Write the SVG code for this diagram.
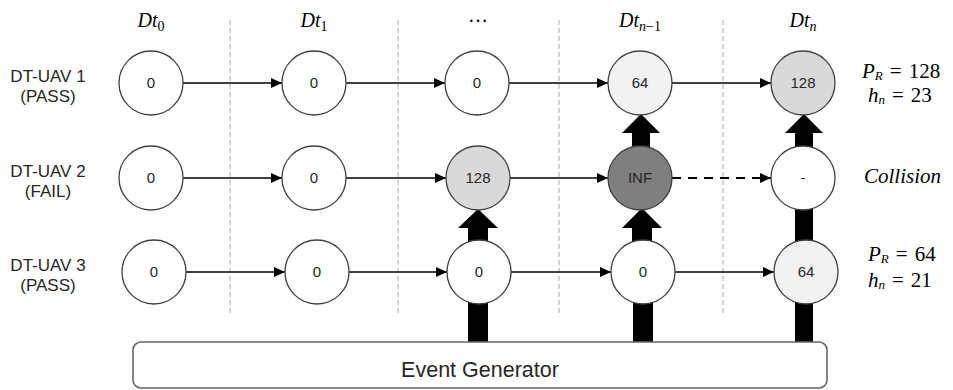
<svg xmlns="http://www.w3.org/2000/svg" width="953" height="390" viewBox="0 0 953 390">
  <defs>
    <marker id="arrow" markerUnits="userSpaceOnUse" markerWidth="12" markerHeight="10" refX="11" refY="5" orient="auto">
      <path d="M0,0 L11,5 L0,10 Z" fill="#000"/>
    </marker>
    <style>
      .sep { stroke: #ababab; stroke-width: 1; stroke-dasharray: 5 3; fill: none; }
      .node circle { stroke: #404040; stroke-width: 1.3; }
      .node text { font-family: "Liberation Sans", Arial, sans-serif; font-size: 15px; fill: #262626; text-anchor: middle; }
      .w { fill: #ffffff; }
      .l { fill: #f2f2f2; }
      .m { fill: #d9d9d9; }
      .d { fill: #7f7f7f; }
      .link { stroke: #000; stroke-width: 1.6; fill: none; marker-end: url(#arrow); }
      .link.dash { stroke-width: 2.2; stroke-dasharray: 9 7; }
      .block { fill: #000; }
      .label { font-family: "Liberation Sans", Arial, sans-serif; font-size: 17px; fill: #262626; text-anchor: middle; }
      .math { font-family: "Liberation Serif", "Times New Roman", serif; font-size: 21px; fill: #000; }
      .it { font-style: italic; }
      .sub { font-size: 13px; font-style: italic; }
      .head { font-family: "Liberation Serif", "Times New Roman", serif; font-size: 20px; fill: #000; text-anchor: middle; }
      .gen rect { fill: #fff; stroke: #666; stroke-width: 1.6; }
      .gen text { font-family: "Liberation Sans", Arial, sans-serif; font-size: 21.5px; fill: #262626; text-anchor: middle; }
    </style>
  </defs>

  <!-- time step separators -->
  <g id="separators">
    <line class="sep" x1="230" y1="20" x2="230" y2="313"/>
    <line class="sep" x1="398" y1="20" x2="398" y2="313"/>
    <line class="sep" x1="559" y1="20" x2="559" y2="313"/>
    <line class="sep" x1="723" y1="20" x2="723" y2="313"/>
  </g>

  <!-- column headers -->
  <g id="headers">
    <text class="head" x="151" y="27"><tspan class="it">Dt</tspan><tspan font-size="14" dy="4">0</tspan></text>
    <text class="head" x="314" y="27"><tspan class="it">Dt</tspan><tspan font-size="14" dy="4">1</tspan></text>
    <text class="head" x="478" y="22" font-size="14" font-family="Liberation Sans, sans-serif">…</text>
    <text class="head" x="640" y="27"><tspan class="it">Dt</tspan><tspan class="it" font-size="14" dy="4">n</tspan><tspan font-size="14">−1</tspan></text>
    <text class="head" x="803" y="27"><tspan class="it">Dt</tspan><tspan class="it" font-size="14" dy="4">n</tspan></text>
  </g>

  <!-- row labels -->
  <g id="row-labels">
    <text class="label" x="48" y="82">DT-UAV 1</text>
    <text class="label" x="48" y="102">(PASS)</text>
    <text class="label" x="48" y="177">DT-UAV 2</text>
    <text class="label" x="48" y="197">(FAIL)</text>
    <text class="label" x="48" y="271">DT-UAV 3</text>
    <text class="label" x="48" y="291">(PASS)</text>
  </g>

  <!-- connectors -->
  <g id="connectors">
    <!-- UAV 1 -->
    <line class="link" x1="183" y1="83" x2="282" y2="83"/>
    <line class="link" x1="346" y1="83" x2="445" y2="83"/>
    <line class="link" x1="509" y1="83" x2="608" y2="83"/>
    <line class="link" x1="672" y1="83" x2="771" y2="83"/>
    <!-- UAV 2 -->
    <line class="link" x1="183" y1="178" x2="282" y2="178"/>
    <line class="link" x1="346" y1="178" x2="446" y2="178"/>
    <line class="link" x1="510" y1="178" x2="608" y2="178"/>
    <line class="link dash" x1="672" y1="178" x2="771" y2="178"/>
    <!-- UAV 3 -->
    <line class="link" x1="186" y1="272" x2="285" y2="272"/>
    <line class="link" x1="349" y1="272" x2="447" y2="272"/>
    <line class="link" x1="511" y1="272" x2="611" y2="272"/>
    <line class="link" x1="675" y1="272" x2="774" y2="272"/>
    <!-- event injections -->
    <rect class="block" x="468" y="300" width="20" height="43"/>
    <rect class="block" x="633" y="300" width="20" height="43"/>
    <rect class="block" x="795" y="300" width="18" height="43"/>
    <polygon class="block" points="468,245 468,228 458,228 478,209 498,228 488,228 488,245"/>
    <polygon class="block" points="632,245 632,228 622,228 642,208 662,228 652,228 652,245"/>
    <polygon class="block" points="632,150 632,133 622,133 641,114 660,133 650,133 650,150"/>
    <rect class="block" x="795" y="205" width="18" height="40"/>
    <polygon class="block" points="795,150 795,133 785,133 804,114 823,133 813,133 813,150"/>
  </g>

  <!-- DT-UAV 1 nodes -->
  <g id="u1-t0" class="node"><circle class="w" cx="151" cy="83" r="32"/><text x="151" y="88">0</text></g>
  <g id="u1-t1" class="node"><circle class="w" cx="314" cy="83" r="32"/><text x="314" y="88">0</text></g>
  <g id="u1-t2" class="node"><circle class="w" cx="477" cy="83" r="32"/><text x="477" y="88">0</text></g>
  <g id="u1-t3" class="node"><circle class="l" cx="640" cy="83" r="32"/><text x="640" y="88">64</text></g>
  <g id="u1-t4" class="node"><circle class="m" cx="803" cy="83" r="32"/><text x="803" y="88">128</text></g>

  <!-- DT-UAV 2 nodes -->
  <g id="u2-t0" class="node"><circle class="w" cx="151" cy="178" r="32"/><text x="151" y="183">0</text></g>
  <g id="u2-t1" class="node"><circle class="w" cx="314" cy="178" r="32"/><text x="314" y="183">0</text></g>
  <g id="u2-t2" class="node"><circle class="m" cx="478" cy="178" r="32"/><text x="478" y="183">128</text></g>
  <g id="u2-t3" class="node"><circle class="d" cx="640" cy="178" r="32"/><text x="640" y="183">INF</text></g>
  <g id="u2-t4" class="node"><circle class="w" cx="803" cy="178" r="32"/><text x="803" y="183">-</text></g>

  <!-- DT-UAV 3 nodes -->
  <g id="u3-t0" class="node"><circle class="w" cx="154" cy="272" r="32"/><text x="154" y="277">0</text></g>
  <g id="u3-t1" class="node"><circle class="w" cx="317" cy="272" r="32"/><text x="317" y="277">0</text></g>
  <g id="u3-t2" class="node"><circle class="w" cx="479" cy="272" r="32"/><text x="479" y="277">0</text></g>
  <g id="u3-t3" class="node"><circle class="w" cx="643" cy="272" r="32"/><text x="643" y="277">0</text></g>
  <g id="u3-t4" class="node"><circle class="l" cx="806" cy="272" r="32"/><text x="806" y="277">64</text></g>

  <!-- outcome annotations -->
  <g id="results">
    <text class="math" x="862" y="78"><tspan class="it">P</tspan><tspan class="sub" dy="2">R</tspan><tspan dx="7" dy="-2">=</tspan><tspan dx="7">128</tspan></text>
    <text class="math" x="868" y="102"><tspan class="it">h</tspan><tspan class="sub" dy="2">n</tspan><tspan dx="7" dy="-2">=</tspan><tspan dx="7">23</tspan></text>
    <text class="math it" x="864" y="183">Collision</text>
    <text class="math" x="868" y="261"><tspan class="it">P</tspan><tspan class="sub" dy="2">R</tspan><tspan dx="7" dy="-2">=</tspan><tspan dx="7">64</tspan></text>
    <text class="math" x="868" y="287"><tspan class="it">h</tspan><tspan class="sub" dy="2">n</tspan><tspan dx="7" dy="-2">=</tspan><tspan dx="7">21</tspan></text>
  </g>

  <!-- event generator -->
  <g id="event-generator" class="gen">
    <rect x="133" y="342" width="694" height="46" rx="8"/>
    <text x="480" y="377">Event Generator</text>
  </g>
</svg>
